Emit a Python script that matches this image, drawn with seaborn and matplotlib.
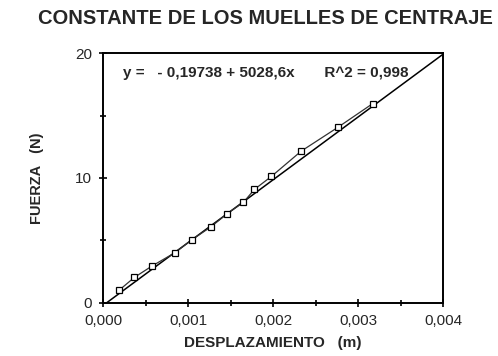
"""Constante de los muelles de centraje: fuerza frente a desplazamiento."""
import matplotlib
matplotlib.use("Agg")
import matplotlib.pyplot as plt
import matplotlib.ticker as mticker
import pandas as pd
import seaborn as sns

desplazamiento = [0.000192, 0.000369, 0.000576, 0.000847, 0.00104, 0.00127,
                  0.00146, 0.00165, 0.00178, 0.00198, 0.00233, 0.00276, 0.00317]
fuerza = [1.04, 2.05, 2.96, 4.03, 5.04, 6.10, 7.15, 8.05, 9.09, 10.13,
          12.15, 14.05, 15.95]
ajuste_a = -0.19738
ajuste_b = 5028.6
ajuste_x = [0.0000393, 0.004]

sns.set_theme(style="ticks")
plt.rcParams["font.family"] = ["Liberation Sans", "DejaVu Sans"]

df = pd.DataFrame({"x": desplazamiento, "F": fuerza})
fit = pd.DataFrame({"x": ajuste_x})
fit["F"] = ajuste_a + ajuste_b * fit["x"]

fig = plt.figure(figsize=(4.98, 3.56), dpi=100)
ax = fig.add_axes([0.207, 0.149, 0.683, 0.702])

sns.lineplot(data=fit, x="x", y="F", color="black", linewidth=1.1, ax=ax)
sns.lineplot(data=df, x="x", y="F", color="#333333", linewidth=0.9,
             marker="s", markersize=5, markerfacecolor="white",
             markeredgecolor="black", markeredgewidth=0.9, ax=ax)

ax.set_xlim(0, 0.004)
ax.set_ylim(0, 20)
ax.xaxis.set_major_locator(mticker.MultipleLocator(0.001))
ax.xaxis.set_minor_locator(mticker.MultipleLocator(0.0005))
ax.yaxis.set_major_locator(mticker.MultipleLocator(10))
ax.yaxis.set_minor_locator(mticker.MultipleLocator(5))
ax.xaxis.set_major_formatter(mticker.FuncFormatter(lambda v, p: f"{v:.3f}".replace(".", ",")))
ax.yaxis.set_major_formatter(mticker.FuncFormatter(lambda v, p: f"{v:.0f}"))
ax.tick_params(which="both", direction="inout", color="black", width=1.2)
ax.tick_params(which="major", length=6, labelsize=11, pad=5)
ax.tick_params(which="minor", length=4)
for s in ax.spines.values():
    s.set_color("black")
    s.set_linewidth(1.4)

ax.set_xlabel("DESPLAZAMIENTO   (m)", fontsize=11, fontweight="bold", labelpad=6)
ax.set_ylabel("FUERZA   (N)", fontsize=10.5, fontweight="bold", labelpad=22)
ax.text(0.000235, 18.4, "y =   - 0,19738 + 5028,6x       R^2 = 0,998",
        fontsize=11, fontweight="bold", va="center", ha="left")

fig.text(0.534, 0.948, "CONSTANTE DE LOS MUELLES DE CENTRAJE",
         fontsize=14.5, fontweight="bold", ha="center", va="center")

fig.savefig("out.png", dpi=100)
